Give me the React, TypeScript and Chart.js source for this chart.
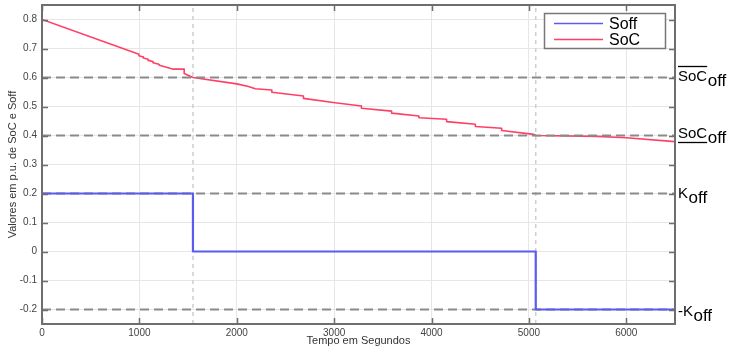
import React, { useEffect, useRef } from 'react';
import { Chart, registerables } from 'chart.js';

Chart.register(...registerables);

// ---- data ----
const xRange = [0, 6500];
const yRange = [-0.25, 0.85];
const xTicks = [0, 1000, 2000, 3000, 4000, 5000, 6000];
const yTicks = [-0.2, -0.1, 0, 0.1, 0.2, 0.3, 0.4, 0.5, 0.6, 0.7, 0.8];

const soffTime = [0, 1550, 1550, 5070, 5070, 6500];
const soffValue = [0.2, 0.2, 0, 0, -0.2, -0.2];

const socTime = [
  0, 995, 995, 1040, 1040, 1090, 1090, 1140, 1140, 1200, 1205, 1340, 1460, 1460, 1550,
  2000, 2120, 2190, 2360, 2360, 2685, 2685, 2990, 3280, 3280, 3590, 3590, 3870, 3870,
  4155, 4155, 4450, 4450, 4720, 4720, 5050, 5070, 5700, 6000, 6500,
];
const socValue = [
  0.8, 0.68, 0.675, 0.671, 0.667, 0.663, 0.659, 0.655, 0.651, 0.646, 0.642, 0.629, 0.629, 0.614, 0.6,
  0.578, 0.569, 0.561, 0.557, 0.549, 0.536, 0.528, 0.514, 0.502, 0.494, 0.484, 0.477, 0.467, 0.461,
  0.456, 0.448, 0.439, 0.431, 0.425, 0.417, 0.404, 0.4, 0.397, 0.392, 0.379,
];

const thresholdValues = [0.6, 0.4, 0.2, -0.2];
const thresholdMain = ['SoC', 'SoC', 'K', '-K'];
const thresholdSub = ['off', 'off', 'off', 'off'];
const thresholdMark = ['over', 'under', '', ''];

const switchTimes = [1550, 5070];

const seriesLabels = ['Soff', 'SoC'];
const seriesColors = ['#5b5bf0', '#ff3f66'];

// ---- styles ----
const FONT = "'Liberation Sans', Arial, Helvetica, sans-serif";

const framePlugin = {
  id: 'frame',
  afterDatasetsDraw(chart: any) {
    const { ctx, chartArea: a, scales } = chart;
    ctx.save();
    // box
    ctx.strokeStyle = '#6e6e6e';
    ctx.lineWidth = 2;
    ctx.strokeRect(a.left, a.top, a.right - a.left, a.bottom - a.top);
    // inner ticks
    ctx.lineWidth = 1.5;
    ctx.beginPath();
    for (const v of xTicks) {
      const px = Math.round(scales.x.getPixelForValue(v)) + 0.5;
      ctx.moveTo(px, a.bottom);
      ctx.lineTo(px, a.bottom - 6);
      ctx.moveTo(px, a.top);
      ctx.lineTo(px, a.top + 6);
    }
    for (const v of yTicks) {
      const py = Math.round(scales.y.getPixelForValue(v)) + 0.5;
      ctx.moveTo(a.left, py);
      ctx.lineTo(a.left + 6, py);
      ctx.moveTo(a.right, py);
      ctx.lineTo(a.right - 6, py);
    }
    ctx.stroke();

    // right-side threshold labels
    const mainOffsets = [3, 2, 4, 6];
    ctx.fillStyle = '#000';
    ctx.strokeStyle = '#000';
    ctx.textAlign = 'left';
    ctx.textBaseline = 'alphabetic';
    thresholdValues.forEach((v, i) => {
      const py = scales.y.getPixelForValue(v);
      const x0 = a.right + 3;
      const base = py + mainOffsets[i];
      ctx.font = `15px ${FONT}`;
      const w = ctx.measureText(thresholdMain[i]).width;
      ctx.fillText(thresholdMain[i], x0, base);
      ctx.font = `17px ${FONT}`;
      ctx.fillText(thresholdSub[i], x0 + w + 0.5, base + 5);
      if (thresholdMark[i]) {
        ctx.lineWidth = 1.3;
        ctx.beginPath();
        const ly = thresholdMark[i] === 'over' ? base - 14 : base + 5;
        ctx.moveTo(x0, ly);
        ctx.lineTo(x0 + w, ly);
        ctx.stroke();
      }
    });

    // legend
    const lx = 544, ly = 13, lw = 121, lh = 35;
    ctx.fillStyle = '#fff';
    ctx.fillRect(lx, ly, lw, lh);
    ctx.strokeStyle = '#777';
    ctx.lineWidth = 1.5;
    ctx.strokeRect(lx + 0.5, ly + 0.5, lw, lh);
    ctx.font = `16px ${FONT}`;
    seriesLabels.forEach((lab, i) => {
      const y = ly + 10 + i * 16;
      ctx.strokeStyle = seriesColors[i];
      ctx.lineWidth = 1.5;
      ctx.beginPath();
      ctx.moveTo(lx + 10, y + 0.5);
      ctx.lineTo(lx + 59, y + 0.5);
      ctx.stroke();
      ctx.fillStyle = '#000';
      ctx.fillText(lab, lx + 65, y + 5.5);
    });
    ctx.restore();
  },
};

export default function App() {
  const ref = useRef<HTMLCanvasElement | null>(null);

  useEffect(() => {
    const canvas = ref.current;
    if (!canvas) return;

    const thresholdSets = thresholdValues.map((v, i) => ({
      label: 'thr' + i,
      data: [
        { x: xRange[0], y: v },
        { x: xRange[1], y: v },
      ],
      borderColor: '#8a8a8a',
      borderWidth: 2,
      borderDash: [9, 5],
      pointRadius: 0,
      order: 1,
    }));
    const switchSets = switchTimes.map((t, i) => ({
      label: 'sw' + i,
      data: [
        { x: t, y: yRange[0] },
        { x: t, y: yRange[1] },
      ],
      borderColor: '#cfcfcf',
      borderWidth: 1.5,
      borderDash: [4, 4],
      pointRadius: 0,
      order: 3,
    }));

    const chart = new Chart(canvas, {
      type: 'line',
      data: {
        datasets: [
          {
            label: seriesLabels[0],
            data: soffTime.map((t, i) => ({ x: t, y: soffValue[i] })),
            borderColor: seriesColors[0],
            borderWidth: 2.2,
            borderJoinStyle: 'round',
            pointRadius: 0,
            order: 0,
          },
          {
            label: seriesLabels[1],
            data: socTime.map((t, i) => ({ x: t, y: socValue[i] })),
            borderColor: seriesColors[1],
            borderWidth: 1.6,
            borderJoinStyle: 'round',
            pointRadius: 0,
            order: 2,
          },
          ...thresholdSets,
          ...switchSets,
        ] as any,
      },
      options: {
        animation: false,
        responsive: false,
        events: [],
        layout: { padding: { top: 5, right: 60, left: 0, bottom: 0 } },
        plugins: { legend: { display: false }, tooltip: { enabled: false } },
        scales: {
          x: {
            type: 'linear',
            min: xRange[0],
            max: xRange[1],
            afterBuildTicks: (s: any) => {
              s.ticks = xTicks.map((v) => ({ value: v }));
            },
            afterFit: (s: any) => {
              s.height = 26;
              s.paddingLeft = 0;
              s.paddingRight = 0;
            },
            grid: { color: '#e6e6e6', lineWidth: 1, drawTicks: false },
            border: { display: false },
            ticks: {
              font: { family: FONT, size: 10 },
              color: '#444',
              padding: 3,
              maxRotation: 0,
              autoSkip: false,
              callback: (v: any) => String(v),
            },
            title: {
              display: true,
              text: 'Tempo em Segundos',
              font: { family: FONT, size: 11 },
              color: '#333',
              padding: { top: 0, bottom: 2 },
            },
          },
          y: {
            type: 'linear',
            min: yRange[0],
            max: yRange[1],
            afterBuildTicks: (s: any) => {
              s.ticks = yTicks.map((v) => ({ value: v }));
            },
            afterFit: (s: any) => {
              s.width = 42;
              s.paddingTop = 0;
              s.paddingBottom = 0;
            },
            grid: { color: '#e6e6e6', lineWidth: 1, drawTicks: false },
            border: { display: false },
            ticks: {
              font: { family: FONT, size: 10 },
              color: '#444',
              padding: 5,
              autoSkip: false,
              callback: (v: any) => String(parseFloat(Number(v).toFixed(1)) || 0),
            },
            title: {
              display: true,
              text: 'Valores em p.u. de SoC e Soff',
              font: { family: FONT, size: 11 },
              color: '#333',
              padding: { top: 6, bottom: 0 },
            },
          },
        },
      } as any,
      plugins: [framePlugin],
    });
    return () => chart.destroy();
  }, []);

  return (
    <div style={{ position: 'absolute', left: 0, top: 0, width: 735, height: 350, background: '#fff' }}>
      <canvas ref={ref} width={735} height={350} style={{ display: 'block', width: 735, height: 350 }} />
    </div>
  );
}
